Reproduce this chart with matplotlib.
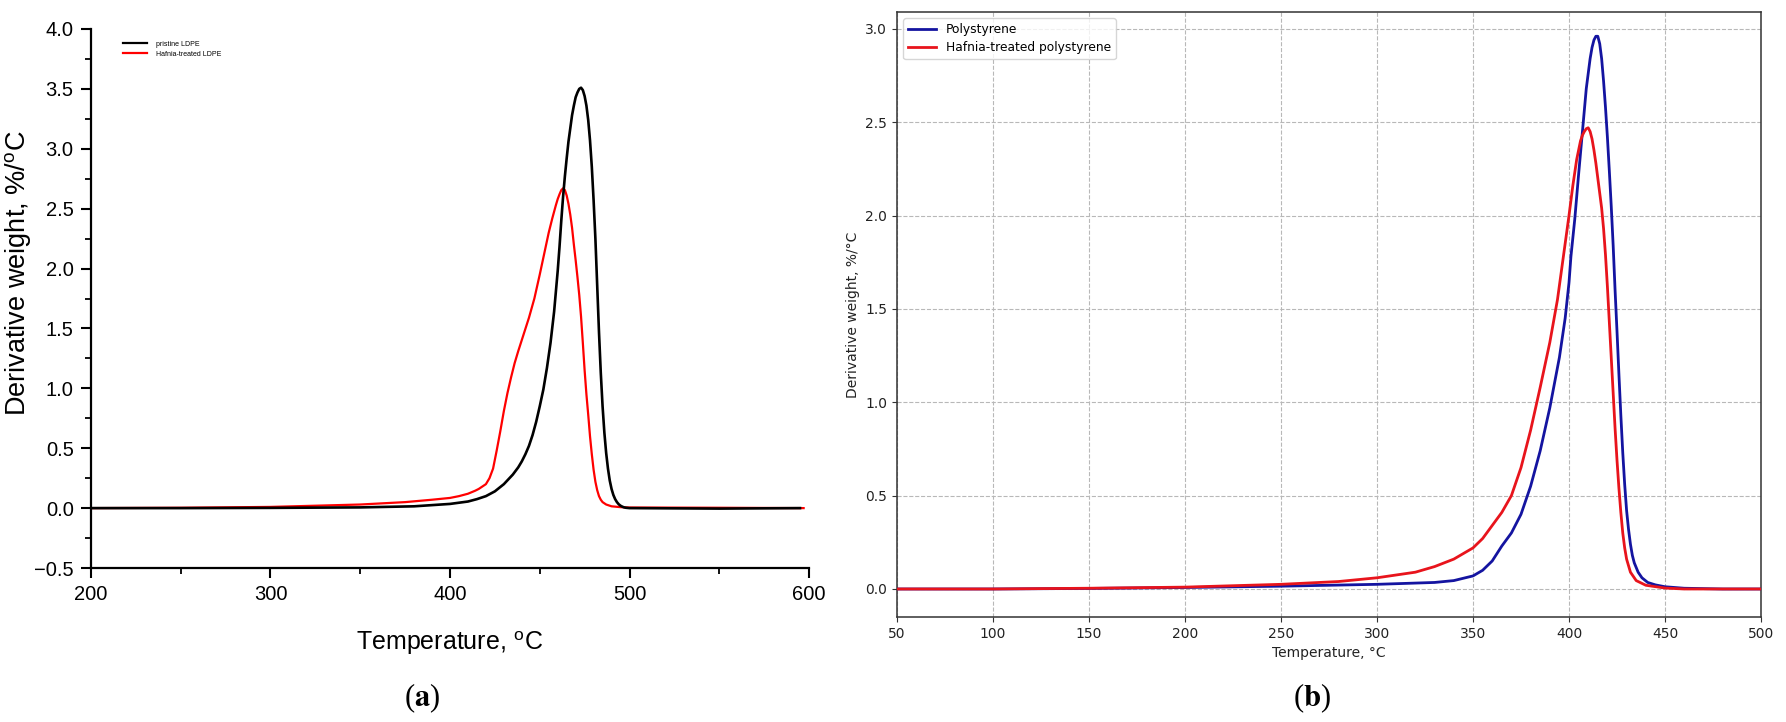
import matplotlib
matplotlib.use("Agg")
import matplotlib.pyplot as plt
from matplotlib.ticker import MultipleLocator

# ---------------- data: panel (a) LDPE ----------------
ldpe_T = [200, 250, 300, 350, 380, 400, 410, 415, 420, 425, 430, 435, 438, 440,
          442, 444, 446, 448, 450, 452, 454, 456, 458, 460, 461, 462, 463, 464,
          465, 466, 467, 468, 469, 470, 471, 472, 473, 474, 475, 476, 477, 478,
          479, 480, 481, 482, 483, 484, 485, 486, 487, 488, 489, 490, 491, 492,
          493, 494, 495, 496, 497, 498, 500, 550, 595]
ldpe_pristine = [0.0, 0.0, 0.002, 0.006, 0.015, 0.035, 0.055, 0.075, 0.10, 0.14,
                 0.20, 0.28, 0.34, 0.39, 0.45, 0.52, 0.61, 0.72, 0.85, 0.99,
                 1.17, 1.38, 1.64, 1.98, 2.18, 2.40, 2.60, 2.77, 2.92, 3.06,
                 3.17, 3.28, 3.36, 3.43, 3.47, 3.50, 3.51, 3.49, 3.44, 3.36,
                 3.24, 3.07, 2.85, 2.57, 2.25, 1.86, 1.47, 1.13, 0.85, 0.63,
                 0.46, 0.33, 0.23, 0.16, 0.11, 0.075, 0.05, 0.032, 0.02, 0.012,
                 0.006, 0.003, 0.0, -0.004, 0.0]

ldpe_hf_T = [200, 250, 300, 350, 375, 390, 400, 405, 410, 414, 416, 418, 420,
             422, 424, 426, 428, 430, 432, 434, 436, 438, 441, 444, 447, 450,
             453, 455, 457, 459, 460, 461, 462, 463, 464, 465, 466, 467, 468,
             469, 470, 471, 472, 473, 474, 475, 476, 477, 478, 479, 480, 481,
             482, 483, 484, 485, 487, 490, 495, 500, 550, 597]
ldpe_hafnia = [0.0, 0.003, 0.01, 0.03, 0.05, 0.07, 0.085, 0.10, 0.12, 0.145,
               0.16, 0.18, 0.20, 0.25, 0.33, 0.48, 0.64, 0.81, 0.96, 1.09,
               1.21, 1.31, 1.45, 1.59, 1.75, 1.95, 2.16, 2.30, 2.42, 2.53,
               2.58, 2.62, 2.655, 2.67, 2.655, 2.61, 2.54, 2.45, 2.34, 2.20,
               2.07, 1.93, 1.78, 1.60, 1.38, 1.15, 0.95, 0.78, 0.60, 0.45,
               0.32, 0.22, 0.15, 0.10, 0.07, 0.05, 0.03, 0.015, 0.008, 0.005,
               0.003, 0.0]

# ---------------- data: panel (b) polystyrene ----------------
ps_T = [50, 100, 150, 200, 250, 300, 330, 340, 350, 355, 360, 365, 370, 375,
        380, 385, 390, 395, 398, 400, 401, 403, 405, 407, 409, 410, 411, 412,
        413, 414, 415, 416, 417, 418, 419, 420, 421, 422, 423, 424, 425, 426,
        427, 428, 429, 430, 431, 432, 433, 434, 436, 438, 441, 445, 450, 460,
        480, 500]
ps_pristine = [0.0, 0.0, 0.003, 0.008, 0.015, 0.025, 0.035, 0.045, 0.07, 0.10,
               0.15, 0.23, 0.30, 0.40, 0.55, 0.74, 0.97, 1.24, 1.45, 1.64,
               1.78, 1.98, 2.22, 2.45, 2.68, 2.76, 2.84, 2.90, 2.94, 2.96,
               2.96, 2.92, 2.84, 2.72, 2.58, 2.42, 2.24, 2.05, 1.84, 1.60,
               1.38, 1.15, 0.93, 0.73, 0.56, 0.42, 0.32, 0.24, 0.18, 0.14,
               0.09, 0.06, 0.035, 0.022, 0.012, 0.004, 0.0, 0.0]

ps_hf_T = [50, 100, 150, 200, 250, 280, 300, 320, 330, 340, 350, 355, 360, 365,
           370, 375, 380, 385, 390, 394, 398, 400, 402, 404, 405, 406, 407, 408,
           409, 410, 411, 412, 413, 414, 415, 416, 417, 418, 419, 420, 421, 422,
           423, 424, 425, 426, 427, 428, 429, 430, 432, 435, 440, 450, 460, 500]
ps_hafnia = [0.0, 0.0, 0.004, 0.01, 0.025, 0.04, 0.06, 0.09, 0.12, 0.16, 0.22,
             0.27, 0.34, 0.41, 0.50, 0.65, 0.85, 1.08, 1.32, 1.55, 1.85, 2.00,
             2.16, 2.30, 2.35, 2.40, 2.43, 2.45, 2.465, 2.47, 2.45, 2.41, 2.35,
             2.28, 2.20, 2.12, 2.04, 1.93, 1.79, 1.62, 1.43, 1.24, 1.05, 0.86,
             0.69, 0.54, 0.41, 0.30, 0.22, 0.16, 0.09, 0.045, 0.02, 0.005, 0.0,
             0.0]

a_xticks = [200, 300, 400, 500, 600]
a_yticks = [-0.5, 0.0, 0.5, 1.0, 1.5, 2.0, 2.5, 3.0, 3.5, 4.0]
b_xticks = [50, 100, 150, 200, 250, 300, 350, 400, 450, 500]
b_yticks = [0.0, 0.5, 1.0, 1.5, 2.0, 2.5, 3.0]

W, H = 1786, 722
plt.rcParams["mathtext.fontset"] = "stix"
fig = plt.figure(figsize=(W / 100, H / 100), dpi=100)
fig.patch.set_facecolor("white")

def frac(x0, y0, x1, y1):
    return [x0 / W, 1 - y1 / H, (x1 - x0) / W, (y1 - y0) / H]

# ---------------- panel (a) ----------------
sans = ["Liberation Sans", "DejaVu Sans"]
ax1 = fig.add_axes(frac(91, 29, 809, 568))
ax1.plot(ldpe_T, ldpe_pristine, color="black", lw=1.9, label="pristine LDPE", zorder=3)
ax1.plot(ldpe_hf_T, ldpe_hafnia, color="#ff0000", lw=1.6, label="Hafnia-treated LDPE", zorder=2)
ax1.set_xlim(200, 600)
ax1.set_ylim(-0.5, 4.0)
ax1.set_xticks(a_xticks)
ax1.set_yticks(a_yticks)
ax1.xaxis.set_minor_locator(MultipleLocator(50))
ax1.yaxis.set_minor_locator(MultipleLocator(0.25))
for s in ["top", "right"]:
    ax1.spines[s].set_visible(False)
for s in ["left", "bottom"]:
    ax1.spines[s].set_linewidth(1.6)
ax1.tick_params(which="major", direction="out", length=7.5, width=1.5, pad=5)
ax1.tick_params(which="minor", direction="out", length=4, width=1.3)
ax1.set_yticklabels([f"{v:.1f}".replace("-", "\u2212") for v in a_yticks],
                    family=sans, fontsize=14.5)
ax1.set_xticklabels([str(v) for v in a_xticks], family=sans, fontsize=14.5)
ax1.set_xlabel("Temperature, $^\\mathregular{o}$C", family=sans, fontsize=18)
ax1.xaxis.set_label_coords(0.5, -0.113)
ax1.set_ylabel("Derivative weight, %/$^\\mathregular{o}$C", family=sans, fontsize=19.5)
ax1.yaxis.set_label_coords(-0.08, 0.547)
leg1 = ax1.legend(loc="upper left", bbox_to_anchor=(0.0446, 0.978), frameon=False,
                  prop={"family": sans, "size": 5},
                  handlelength=3.5, handletextpad=1.3, borderpad=0, borderaxespad=0,
                  labelspacing=0.42)
for ln in leg1.get_lines():
    ln.set_linewidth(1.6)

# ---------------- panel (b) ----------------
ax2 = fig.add_axes(frac(897, 12, 1761, 617))
ax2.plot(ps_T, ps_pristine, color="#1414a0", lw=2.0, label="Polystyrene", zorder=3)
ax2.plot(ps_hf_T, ps_hafnia, color="#e8141c", lw=2.0, label="Hafnia-treated polystyrene", zorder=3)
ax2.set_xlim(50, 500)
ax2.set_ylim(-0.15, 3.09)
ax2.set_xticks(b_xticks)
ax2.set_yticks(b_yticks)
ax2.grid(True, linestyle="--", color="#b8b8b8", linewidth=0.8)
ax2.set_axisbelow(True)
for s in ax2.spines.values():
    s.set_color("#333333")
    s.set_linewidth(1.1)
ax2.tick_params(labelsize=10, colors="#333333", labelcolor="#222222")
ax2.set_xlabel("Temperature, °C", fontsize=10, color="#222222", family="DejaVu Sans")
ax2.set_ylabel("Derivative weight, %/°C", fontsize=10, color="#222222", family="DejaVu Sans")
ax2.legend(loc="upper left", fontsize=8.8, framealpha=0.8, edgecolor="#cccccc",
           handlelength=2.3, labelspacing=0.45)

# ---------------- panel letters ----------------
fig.text(422 / W, 1 - 698 / H, r"($\mathbf{a}$)", ha="center", va="center",
         fontsize=22, family="Liberation Serif")
fig.text(1312 / W, 1 - 698 / H, r"($\mathbf{b}$)", ha="center", va="center",
         fontsize=22, family="Liberation Serif")

fig.savefig("out.png", dpi=100)
